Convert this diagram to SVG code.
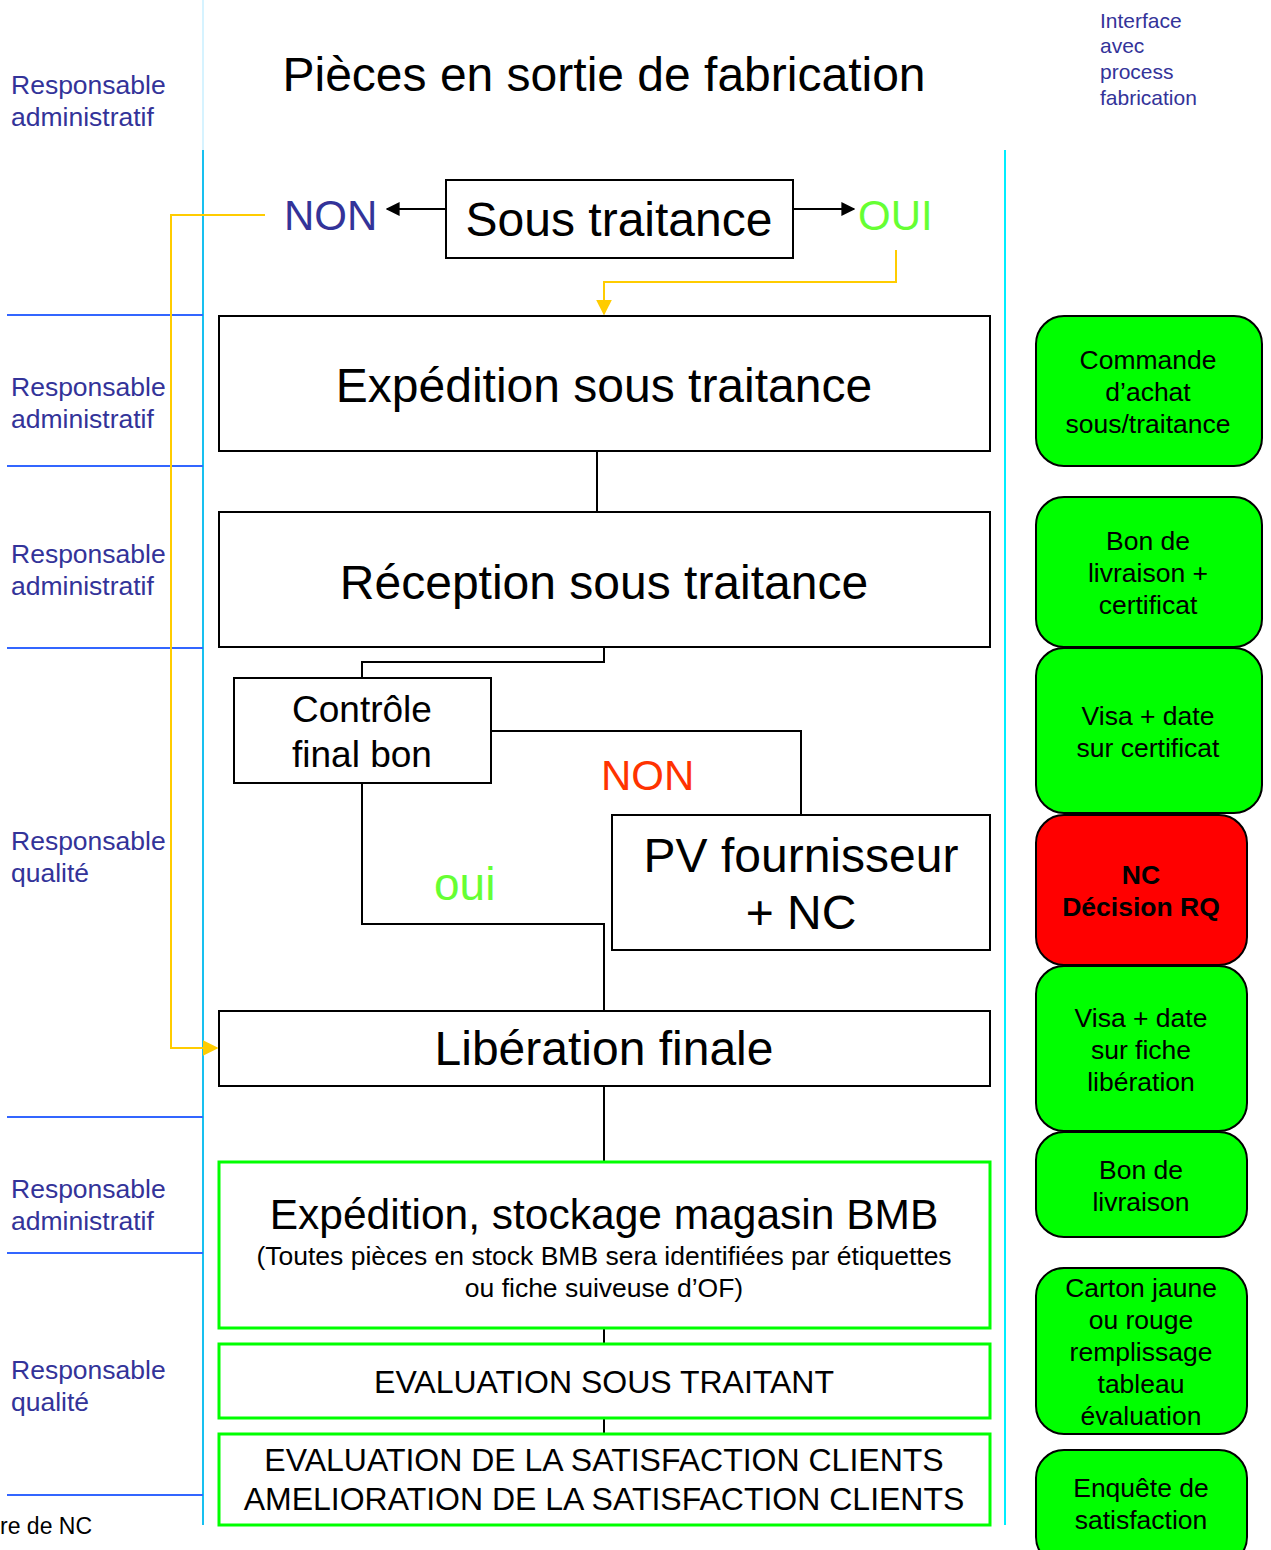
<svg xmlns="http://www.w3.org/2000/svg" width="1271" height="1550" viewBox="0 0 1271 1550">
<style>
text{font-family:"Liberation Sans",Arial,sans-serif;}
.lane{font-size:26.5px;fill:#333399;}
.box{fill:#fff;stroke:#000;stroke-width:2;}
.gbox{fill:#fff;stroke:#00ff00;stroke-width:3;}
.rbox{fill:#00ff00;stroke:#000;stroke-width:2;}
.red{fill:#ff0000;stroke:#000;stroke-width:2;}
.t48{font-size:48px;fill:#000;text-anchor:middle;}
.side{font-size:26.5px;fill:#000;text-anchor:middle;}
.conn{fill:none;stroke:#000;stroke-width:2;}
.yel{fill:none;stroke:#ffcc00;stroke-width:2;}
.sep{stroke:#3366ff;stroke-width:2;}
</style>
<defs>
<marker id="ab" viewBox="0 0 10 10" refX="9" refY="5" markerWidth="14" markerHeight="14" markerUnits="userSpaceOnUse" orient="auto"><path d="M0,0L10,5L0,10z" fill="#000"/></marker>
<marker id="ay" viewBox="0 0 10 10" refX="9" refY="5" markerWidth="16" markerHeight="16" markerUnits="userSpaceOnUse" orient="auto"><path d="M0,0L10,5L0,10z" fill="#ffcc00"/></marker>
</defs>
<rect width="1271" height="1550" fill="#fff"/>

<g id="lanes">
<line x1="203" y1="0" x2="203" y2="150" stroke="#c8efff" stroke-width="1.5"/>
<line x1="203" y1="150" x2="203" y2="1525" stroke="#18c0f0" stroke-width="2"/>
<line x1="1005" y1="150" x2="1005" y2="1525" stroke="#00eeff" stroke-width="2"/>
<line class="sep" x1="7" y1="315" x2="203" y2="315"/>
<line class="sep" x1="7" y1="466" x2="203" y2="466"/>
<line class="sep" x1="7" y1="648" x2="203" y2="648"/>
<line class="sep" x1="7" y1="1117" x2="203" y2="1117"/>
<line class="sep" x1="7" y1="1253" x2="203" y2="1253"/>
<line class="sep" x1="7" y1="1495" x2="203" y2="1495"/>
<text class="lane" x="11" y="94">Responsable</text>
<text class="lane" x="11" y="126">administratif</text>
<text class="lane" x="11" y="396">Responsable</text>
<text class="lane" x="11" y="428">administratif</text>
<text class="lane" x="11" y="563">Responsable</text>
<text class="lane" x="11" y="595">administratif</text>
<text class="lane" x="11" y="850">Responsable</text>
<text class="lane" x="11" y="882">qualité</text>
<text class="lane" x="11" y="1198">Responsable</text>
<text class="lane" x="11" y="1230">administratif</text>
<text class="lane" x="11" y="1379">Responsable</text>
<text class="lane" x="11" y="1411">qualité</text>
<text x="1100" y="28" font-size="21" fill="#333399">Interface</text>
<text x="1100" y="53" font-size="21" fill="#333399">avec</text>
<text x="1100" y="79" font-size="21" fill="#333399">process</text>
<text x="1100" y="105" font-size="21" fill="#333399">fabrication</text>
<text x="0" y="1534" font-size="23" fill="#000">re de NC</text>
</g>

<g id="title"><text class="t48" x="604" y="91">Pièces en sortie de fabrication</text></g>

<g id="connectors">
<line class="conn" x1="446" y1="209" x2="387" y2="209" marker-end="url(#ab)"/>
<line class="conn" x1="793" y1="209" x2="854" y2="209" marker-end="url(#ab)"/>
<polyline class="yel" points="896,250 896,282 604,282 604,314" marker-end="url(#ay)"/>
<polyline class="yel" points="265,215 171,215 171,1048 217,1048" marker-end="url(#ay)"/>
<line class="conn" x1="597" y1="451" x2="597" y2="512"/>
<polyline class="conn" points="604,648 604,662 362,662 362,678"/>
<polyline class="conn" points="491,731 801,731 801,815"/>
<polyline class="conn" points="362,783 362,924 604,924 604,1011"/>
<line class="conn" x1="604" y1="1086" x2="604" y2="1162"/>
<line class="conn" x1="604" y1="1328" x2="604" y2="1344"/>
<line class="conn" x1="604" y1="1418" x2="604" y2="1434"/>
</g>

<g id="labels">
<text x="284" y="230" font-size="42" fill="#333399">NON</text>
<text x="858" y="230" font-size="42" fill="#66ff33">OUI</text>
<text x="601" y="790" font-size="42" fill="#ff3300">NON</text>
<text x="434" y="900" font-size="46" fill="#66ff33">oui</text>
</g>

<g id="n-sous-traitance">
<rect class="box" x="446" y="180" width="347" height="78"/>
<text class="t48" x="619" y="236">Sous traitance</text>
</g>
<g id="n-expedition-st">
<rect class="box" x="219" y="316" width="771" height="135"/>
<text class="t48" x="604" y="402">Expédition sous traitance</text>
</g>
<g id="n-reception-st">
<rect class="box" x="219" y="512" width="771" height="135"/>
<text class="t48" x="604" y="599">Réception sous traitance</text>
</g>
<g id="n-controle">
<rect class="box" x="234" y="678" width="257" height="105"/>
<text x="362" y="722" font-size="37" text-anchor="middle" fill="#000">Contrôle</text>
<text x="362" y="767" font-size="37" text-anchor="middle" fill="#000">final bon</text>
</g>
<g id="n-pv">
<rect class="box" x="612" y="815" width="378" height="135"/>
<text class="t48" x="801" y="872">PV fournisseur</text>
<text class="t48" x="801" y="929">+ NC</text>
</g>
<g id="n-liberation">
<rect class="box" x="219" y="1011" width="771" height="75"/>
<text class="t48" x="604" y="1065">Libération finale</text>
</g>
<g id="n-stockage">
<rect class="gbox" x="219" y="1162" width="771" height="166"/>
<text x="604" y="1229" font-size="42.5" text-anchor="middle" fill="#000">Expédition, stockage magasin BMB</text>
<text x="604" y="1265" font-size="26.5" text-anchor="middle" fill="#000">(Toutes pièces en stock BMB sera identifiées par étiquettes</text>
<text x="604" y="1297" font-size="26.5" text-anchor="middle" fill="#000">ou fiche suiveuse d’OF)</text>
</g>
<g id="n-eval-st">
<rect class="gbox" x="219" y="1344" width="771" height="74"/>
<text x="604" y="1393" font-size="32" text-anchor="middle" fill="#000">EVALUATION SOUS TRAITANT</text>
</g>
<g id="n-eval-clients">
<rect class="gbox" x="219" y="1434" width="771" height="91"/>
<text x="604" y="1471" font-size="32" text-anchor="middle" fill="#000">EVALUATION DE LA SATISFACTION CLIENTS</text>
<text x="604" y="1510" font-size="32" text-anchor="middle" fill="#000">AMELIORATION DE LA SATISFACTION CLIENTS</text>
</g>

<g id="i-commande">
<rect class="rbox" x="1036" y="316" width="226" height="150" rx="28"/>
<text class="side" x="1148" y="369">Commande</text>
<text class="side" x="1148" y="401">d’achat</text>
<text class="side" x="1148" y="433">sous/traitance</text>
</g>
<g id="i-bon-certif">
<rect class="rbox" x="1036" y="497" width="226" height="150" rx="28"/>
<text class="side" x="1148" y="550">Bon de</text>
<text class="side" x="1148" y="582">livraison +</text>
<text class="side" x="1148" y="614">certificat</text>
</g>
<g id="i-visa-certif">
<rect class="rbox" x="1036" y="648" width="226" height="165" rx="28"/>
<text class="side" x="1148" y="725">Visa + date</text>
<text class="side" x="1148" y="757">sur certificat</text>
</g>
<g id="i-nc">
<rect class="red" x="1036" y="815" width="211" height="150" rx="28"/>
<text class="side" x="1141" y="884" font-weight="bold">NC</text>
<text class="side" x="1141" y="916" font-weight="bold">Décision RQ</text>
</g>
<g id="i-visa-fiche">
<rect class="rbox" x="1036" y="966" width="211" height="165" rx="28"/>
<text class="side" x="1141" y="1027">Visa + date</text>
<text class="side" x="1141" y="1059">sur fiche</text>
<text class="side" x="1141" y="1091">libération</text>
</g>
<g id="i-bon">
<rect class="rbox" x="1036" y="1132" width="211" height="105" rx="28"/>
<text class="side" x="1141" y="1179">Bon de</text>
<text class="side" x="1141" y="1211">livraison</text>
</g>
<g id="i-carton">
<rect class="rbox" x="1036" y="1268" width="211" height="166" rx="28"/>
<text class="side" x="1141" y="1297">Carton jaune</text>
<text class="side" x="1141" y="1329">ou rouge</text>
<text class="side" x="1141" y="1361">remplissage</text>
<text class="side" x="1141" y="1393">tableau</text>
<text class="side" x="1141" y="1425">évaluation</text>
</g>
<g id="i-enquete">
<rect class="rbox" x="1036" y="1450" width="211" height="115" rx="28"/>
<text class="side" x="1141" y="1497">Enquête de</text>
<text class="side" x="1141" y="1529">satisfaction</text>
</g>
</svg>
